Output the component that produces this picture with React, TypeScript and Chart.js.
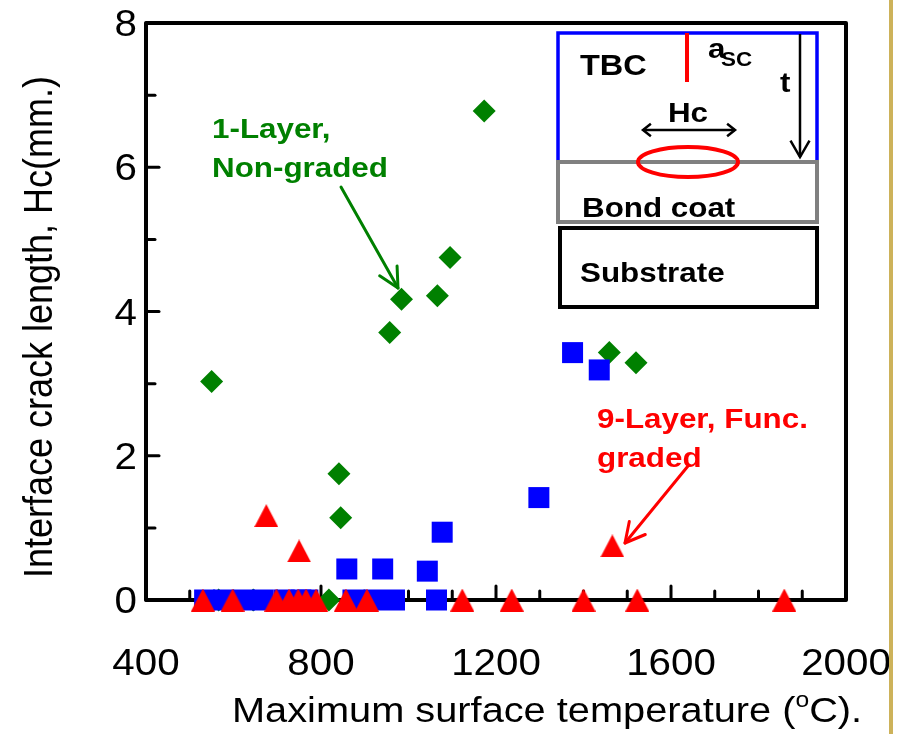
import React, { useEffect, useRef } from "react";
import { Chart, registerables } from "chart.js";

Chart.register(...registerables);

// ---- axis ranges and tick labels ----
const X_MIN = 400;
const X_MAX = 2000;
const Y_MIN = 0;
const Y_MAX = 8;
const X_TICKS = [400, 800, 1200, 1600, 2000];
const Y_TICKS = [0, 2, 4, 6, 8];
const X_MINOR_STEP = 100;
const Y_MINOR_STEP = 1;

// ---- series: 1-Layer, Non-graded (green diamonds) ----
const GREEN_X = [550, 566, 645, 818, 841, 845, 957, 984, 1066, 1095, 1173, 1459, 1520];
const GREEN_Y = [3.03, 0, 0, 0, 1.75, 1.14, 3.71, 4.17, 4.22, 4.75, 6.78, 3.43, 3.29];

// ---- series: blue squares ----
const BLUE_X = [534, 577, 625, 668, 716, 754, 770, 859, 873, 920, 941, 968, 1043, 1064, 1077, 1298, 1375, 1436];
const BLUE_Y = [0, 0, 0, 0, 0, 0, 0, 0.43, 0, 0, 0.43, 0, 0.4, 0, 0.94, 1.42, 3.43, 3.19];

// ---- series: 9-Layer, Func. graded (red triangles) ----
const RED_X = [530, 598, 675, 698, 727, 748, 750, 766, 789, 857, 905, 1123, 1236, 1400, 1466, 1523, 1859];
const RED_Y = [0, 0, 1.17, 0, 0, 0, 0.68, 0, 0, 0, 0, 0, 0, 0, 0.75, 0, 0];

const GREEN = "#008000";
const BLUE = "#0000FF";
const RED = "#FF0000";
const FONT = '"Liberation Sans", Arial, sans-serif';
const SX = 1.12; // horizontal text stretch seen in the reference

const toPts = (xs: number[], ys: number[]) => xs.map((x, i) => ({ x, y: ys[i] }));

function txt(
  ctx: CanvasRenderingContext2D,
  s: string,
  x: number,
  y: number,
  font: string,
  color: string,
  align: CanvasTextAlign = "left",
  base: CanvasTextBaseline = "alphabetic"
) {
  ctx.save();
  ctx.font = font;
  ctx.fillStyle = color;
  ctx.textAlign = align;
  ctx.textBaseline = base;
  ctx.translate(x, y);
  ctx.scale(SX, 1);
  ctx.fillText(s, 0, 0);
  ctx.restore();
}

function line(ctx: CanvasRenderingContext2D, x1: number, y1: number, x2: number, y2: number) {
  ctx.beginPath();
  ctx.moveTo(x1, y1);
  ctx.lineTo(x2, y2);
  ctx.stroke();
}

function arrow(
  ctx: CanvasRenderingContext2D,
  fx: number,
  fy: number,
  tx: number,
  ty: number,
  len: number,
  angDeg: number,
  both = false
) {
  line(ctx, fx, fy, tx, ty);
  const head = (hx: number, hy: number, ox: number, oy: number) => {
    const a = Math.atan2(oy - hy, ox - hx);
    const d = (angDeg * Math.PI) / 180;
    ctx.beginPath();
    ctx.moveTo(hx + Math.cos(a + d) * len, hy + Math.sin(a + d) * len);
    ctx.lineTo(hx, hy);
    ctx.lineTo(hx + Math.cos(a - d) * len, hy + Math.sin(a - d) * len);
    ctx.stroke();
  };
  head(tx, ty, fx, fy);
  if (both) head(fx, fy, tx, ty);
}

const framePlugin = {
  id: "frame",
  beforeDatasetsDraw(chart: any) {
    const ctx: CanvasRenderingContext2D = chart.ctx;
    const { left, right, top, bottom } = chart.chartArea;
    const xs = chart.scales.x;
    const ys = chart.scales.y;
    ctx.save();
    ctx.strokeStyle = "#000";
    ctx.lineCap = "round";
    ctx.lineJoin = "round";
    // inward ticks
    ctx.lineWidth = 3;
    for (let v = X_MIN; v <= X_MAX; v += X_MINOR_STEP) {
      const px = xs.getPixelForValue(v);
      const major = X_TICKS.includes(v);
      line(ctx, px, bottom, px, bottom - (major ? 14 : 9));
    }
    for (let v = Y_MIN; v <= Y_MAX; v += Y_MINOR_STEP) {
      const py = ys.getPixelForValue(v);
      const major = Y_TICKS.includes(v);
      line(ctx, left, py, left + (major ? 13 : 9), py);
    }
    // frame
    ctx.lineWidth = 4;
    ctx.strokeRect(left, top, right - left, bottom - top);
    ctx.restore();

    // tick labels
    const tf = `36px ${FONT}`;
    X_TICKS.forEach((v) => txt(ctx, String(v), xs.getPixelForValue(v), bottom + 75, tf, "#000", "center"));
    Y_TICKS.forEach((v) => txt(ctx, String(v), left - 9, ys.getPixelForValue(v) + 13, tf, "#000", "right"));
  },
  afterDraw(chart: any) {
    const ctx: CanvasRenderingContext2D = chart.ctx;
    const bf = `bold 28px ${FONT}`;

    // axis titles
    const f = `35.5px ${FONT}`;
    const fsup = `22px ${FONT}`;
    const parts: [string, string, number][] = [
      ["Maximum surface temperature (", f, 0],
      ["o", fsup, -15],
      ["C).", f, 0],
    ];
    let x = 232;
    parts.forEach(([s, fo, dy]) => {
      txt(ctx, s, x, 722 + dy, fo, "#000");
      ctx.font = fo;
      x += ctx.measureText(s).width * SX;
    });
    ctx.save();
    ctx.translate(52, 327);
    ctx.rotate(-Math.PI / 2);
    ctx.scale(1, SX);
    ctx.font = `36px ${FONT}`;
    ctx.fillStyle = "#000";
    ctx.textAlign = "center";
    ctx.textBaseline = "alphabetic";
    ctx.fillText("Interface crack length, Hc(mm.)", 0, 0);
    ctx.restore();

    // annotations
    txt(ctx, "1-Layer,", 212, 138, bf, GREEN);
    txt(ctx, "Non-graded", 212, 177, bf, GREEN);
    txt(ctx, "9-Layer, Func.", 597, 428, bf, RED);
    txt(ctx, "graded", 597, 467, bf, RED);

    ctx.save();
    ctx.lineCap = "round";
    ctx.lineJoin = "round";
    ctx.lineWidth = 3;
    ctx.strokeStyle = GREEN;
    arrow(ctx, 341, 187, 398, 288, 22, 27);
    ctx.strokeStyle = RED;
    arrow(ctx, 688, 466, 625, 543, 22, 28);

    // inset schematic
    ctx.fillStyle = "#fff";
    ctx.fillRect(558, 33, 259, 274);
    ctx.lineCap = "butt";
    ctx.lineJoin = "miter";
    ctx.lineWidth = 3.5;
    ctx.strokeStyle = BLUE;
    ctx.strokeRect(558, 33, 259, 129);
    ctx.strokeStyle = "#808080";
    ctx.lineWidth = 4;
    ctx.strokeRect(558, 162, 259, 60);
    ctx.strokeStyle = "#000";
    ctx.strokeRect(560, 228, 257, 79);
    ctx.strokeStyle = RED;
    ctx.lineWidth = 4;
    line(ctx, 687, 33, 687, 82);
    ctx.beginPath();
    ctx.ellipse(688, 162, 50, 15, 0, 0, Math.PI * 2);
    ctx.stroke();
    ctx.strokeStyle = "#000";
    ctx.lineWidth = 2.5;
    arrow(ctx, 800, 34, 800, 157, 19, 30);
    arrow(ctx, 643, 130, 735, 130, 10, 38, true);
    ctx.restore();

    txt(ctx, "TBC", 580, 75, `bold 29px ${FONT}`, "#000");
    txt(ctx, "a", 708, 58, bf, "#000");
    txt(ctx, "SC", 721, 66, `bold 20px ${FONT}`, "#000");
    txt(ctx, "t", 780, 92, bf, "#000");
    txt(ctx, "Hc", 688, 122, bf, "#000", "center");
    txt(ctx, "Bond coat", 582, 217, bf, "#000");
    txt(ctx, "Substrate", 580, 282, bf, "#000");

    // golden side rule
    ctx.save();
    ctx.fillStyle = "#CDB25A";
    ctx.fillRect(889, 0, 4, 734);
    ctx.restore();
  },
};

export default function App() {
  const ref = useRef<HTMLCanvasElement>(null);
  useEffect(() => {
    const canvas = ref.current;
    if (!canvas) return;
    const tri = document.createElement("canvas");
    tri.width = 24;
    tri.height = 23;
    const tc = tri.getContext("2d")!;
    tc.fillStyle = RED;
    tc.beginPath();
    tc.moveTo(12, 0);
    tc.lineTo(24, 23);
    tc.lineTo(0, 23);
    tc.closePath();
    tc.fill();

    const chart = new Chart(canvas, {
      type: "scatter",
      data: {
        datasets: [
          {
            label: "9-Layer, Func. graded",
            data: toPts(RED_X, RED_Y),
            pointStyle: tri as any,
            pointRadius: 12,
            backgroundColor: RED,
            borderWidth: 0,
            order: 0,
            clip: false as any,
          },
          {
            label: "Multi-layer",
            data: toPts(BLUE_X, BLUE_Y),
            pointStyle: "rect",
            pointRadius: 14.85,
            backgroundColor: BLUE,
            borderWidth: 0,
            order: 1,
            clip: false as any,
          },
          {
            label: "1-Layer, Non-graded",
            data: toPts(GREEN_X, GREEN_Y),
            pointStyle: "rectRot",
            pointRadius: 11.5,
            backgroundColor: GREEN,
            borderWidth: 0,
            order: 2,
            clip: false as any,
          },
        ],
      },
      options: {
        animation: false,
        responsive: false,
        devicePixelRatio: 1,
        events: [],
        layout: { padding: { left: 146, top: 23, right: 63, bottom: 134 } },
        scales: {
          x: { type: "linear", min: X_MIN, max: X_MAX, display: false },
          y: { type: "linear", min: Y_MIN, max: Y_MAX, display: false },
        },
        plugins: { legend: { display: false }, tooltip: { enabled: false } },
      },
      plugins: [framePlugin as any],
    });
    return () => chart.destroy();
  }, []);

  return (
    <div style={{ position: "absolute", left: 0, top: 0, width: 909, height: 734, background: "#fff" }}>
      <canvas ref={ref} width={909} height={734} style={{ display: "block" }} />
    </div>
  );
}
